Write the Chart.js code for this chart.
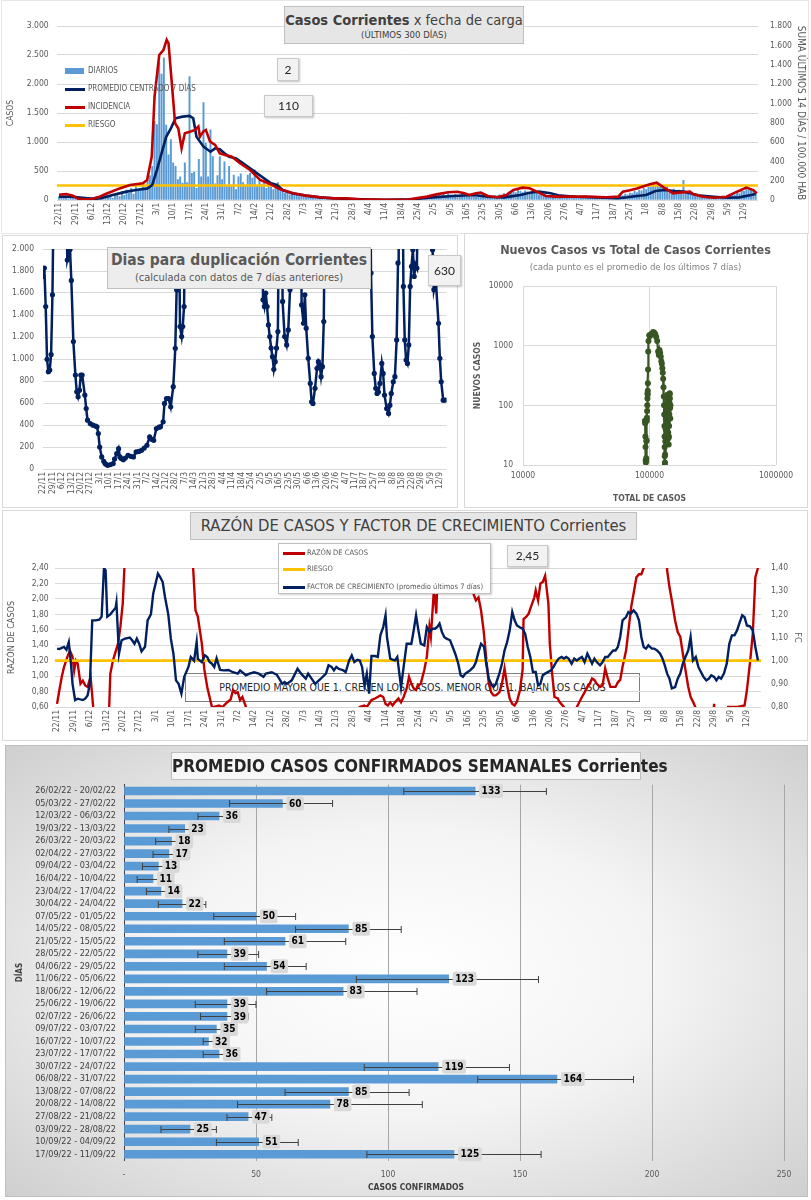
<!DOCTYPE html>
<html><head><meta charset="utf-8">
<script src="https://cdn.jsdelivr.net/npm/chart.js@4.4.1/dist/chart.umd.min.js"></script>
<style>
body{margin:0;width:811px;height:1200px;position:relative;background:#fff;font-family:'Liberation Sans Narrow','DejaVu Sans Condensed',sans-serif;overflow:hidden;color:#595959}
.panel{position:absolute;border:1px solid #d9d9d9;box-sizing:border-box;background:#fff}
canvas{position:absolute}
.tbox{position:absolute;background:#e7e6e6;border:1px solid #bfbfbf;box-sizing:border-box;text-align:center;color:#404040;white-space:nowrap}
.vbox{position:absolute;background:#f2f2f2;border:1px solid #c8c8c8;box-shadow:1px 1px 2px rgba(0,0,0,.25);box-sizing:border-box;text-align:center;color:#262626;font-size:12px;font-family:'Lato','Liberation Sans',sans-serif}
.t{position:absolute;white-space:nowrap}
.sw{position:absolute}
</style></head><body>

<div class="panel" style="left:1px;top:0;width:808px;height:234px;border-color:#e6e6e6"></div>
<div class="panel" style="left:2px;top:235px;width:456px;height:273px"></div>
<div class="panel" style="left:464px;top:233px;width:344px;height:275px"></div>
<div class="panel" style="left:2px;top:510px;width:806px;height:231px"></div>
<div class="panel" style="left:5px;top:745px;width:803px;height:452px;background:radial-gradient(ellipse at 50% 50%,#ffffff 0%,#f4f4f4 45%,#cfcfcf 100%);border-color:#bfbfbf"></div>

<!-- panel 4 annotation under canvas -->
<div class="t" style="left:185px;top:673px;width:455px;height:29px;border:1px solid #7f7f7f;box-sizing:border-box;text-align:center;line-height:27px;font-size:10.5px;color:#262626">PROMEDIO MAYOR QUE 1, CRECEN LOS CASOS, MENOR QUE 1, BAJAN LOS CASOS</div>

<canvas id="c1" width="811" height="236" style="left:0;top:0"></canvas>
<canvas id="c2" width="460" height="275" style="left:0;top:233px"></canvas>
<canvas id="c3" width="348" height="275" style="left:463px;top:233px"></canvas>
<canvas id="c4" width="811" height="232" style="left:0;top:510px"></canvas>
<canvas id="c5" width="803" height="452" style="left:5px;top:745px"></canvas>

<!-- panel 1 overlays -->
<div class="tbox" style="left:284px;top:6px;width:240px;height:38px">
 <div style="font-size:14.5px;line-height:18px;margin-top:4px;color:#404040"><b>Casos Corrientes</b> x fecha de carga</div>
 <div style="font-size:9.5px;line-height:12px">(ÚLTIMOS 300 DÍAS)</div>
</div>
<div class="vbox" style="left:277px;top:58px;width:22px;height:23px;line-height:21px">2</div>
<div class="vbox" style="left:264px;top:95px;width:49px;height:22px;line-height:20px">110</div>
<div class="sw" style="left:65px;top:68px;width:19px;height:6px;background:#5b9bd5"></div>
<div class="t" style="left:88px;top:65px;font-size:8px;line-height:12px">DIARIOS</div>
<div class="sw" style="left:65px;top:88px;width:20px;height:3px;background:#002060"></div>
<div class="t" style="left:88px;top:83px;font-size:8px;line-height:12px">PROMEDIO CENTRADO 7 DÍAS</div>
<div class="sw" style="left:65px;top:106px;width:20px;height:3px;background:#c00000"></div>
<div class="t" style="left:88px;top:101px;font-size:8px;line-height:12px">INCIDENCIA</div>
<div class="sw" style="left:65px;top:124px;width:20px;height:3px;background:#ffc000"></div>
<div class="t" style="left:88px;top:119px;font-size:8px;line-height:12px">RIESGO</div>

<!-- panel 2 overlays -->
<div class="tbox" style="left:107px;top:247px;width:264px;height:42px;background:#ededed">
 <div style="font-size:15.5px;line-height:19px;margin-top:3px;font-weight:bold;color:#595959">Dias para duplicación Corrientes</div>
 <div style="font-size:11px;line-height:15px;color:#595959">(calculada con datos de 7 días anteriores)</div>
</div>
<div class="vbox" style="left:428px;top:255px;width:33px;height:31px;line-height:29px">630</div>

<!-- panel 3 overlays -->
<div class="t" style="left:463px;top:242px;width:345px;text-align:center;font-size:12.5px;font-weight:bold;color:#595959">Nuevos Casos vs Total de Casos Corrientes</div>
<div class="t" style="left:463px;top:261px;width:345px;text-align:center;font-size:9.5px;color:#7f7f7f">(cada punto es el promedio de los últimos 7 días)</div>

<!-- panel 4 overlays -->
<div class="tbox" style="left:190px;top:512px;width:447px;height:28px;line-height:26px;font-size:16.5px;color:#404040">RAZÓN DE CASOS Y FACTOR DE CRECIMIENTO Corrientes</div>
<div class="t" style="left:278px;top:543px;width:213px;height:51px;background:#fff;border:1px solid #bfbfbf;box-shadow:1px 1px 2px rgba(0,0,0,.2);box-sizing:border-box"></div>
<div class="sw" style="left:283px;top:552px;width:22px;height:3px;background:#c00000"></div>
<div class="t" style="left:307px;top:548px;font-size:7.5px;line-height:10px">RAZÓN DE CASOS</div>
<div class="sw" style="left:283px;top:568px;width:22px;height:3px;background:#ffc000"></div>
<div class="t" style="left:307px;top:564px;font-size:7.5px;line-height:10px">RIESGO</div>
<div class="sw" style="left:283px;top:586px;width:22px;height:3px;background:#002060"></div>
<div class="t" style="left:307px;top:582px;font-size:7.5px;line-height:10px">FACTOR DE CRECIMIENTO (promedio últimos 7 días)</div>
<div class="vbox" style="left:507px;top:545px;width:41px;height:22px;line-height:20px">2,45</div>

<!-- panel 5 overlays -->
<div class="tbox" style="left:171px;top:752px;width:470px;height:28px;line-height:26px;font-size:17px;font-weight:bold;background:#f7f7f7;color:#262626">PROMEDIO CASOS CONFIRMADOS SEMANALES Corrientes</div>
<div class="t" style="left:316px;top:1182px;width:200px;text-align:center;font-size:8.5px;font-weight:bold;color:#404040">CASOS CONFIRMADOS</div>

<script>
const NARROW = "'Liberation Sans Narrow','DejaVu Sans Condensed',sans-serif";
Chart.defaults.font.family = NARROW;
Chart.defaults.color = '#595959';

// ---------- shared x tick labels (weekly, from 22/11/2021) ----------
const tickLabels = ['22/11','29/11','6/12','13/12','20/12','27/12','3/1','10/1','17/1','24/1','31/1','7/2','14/2','21/2','28/2','7/3','14/3','21/3','28/3','4/4','11/4','18/4','25/4','2/5','9/5','16/5','23/5','30/5','6/6','13/6','20/6','27/6','4/7','11/7','18/7','25/7','1/8','8/8','15/8','22/8','29/8','5/9','12/9'];

// ---------- panel 1 : casos ----------
const diarios = [
60,45,70,30,20,55,80,50,40,35,
25,30,45,20,15,35,60,40,25,70,
110,50,80,30,90,120,60,150,80,170,
120,200,100,230,150,180,260,210,340,420,
580,1350,1300,2370,2170,2450,1290,780,1040,640,
580,350,400,290,640,300,2130,460,480,200,
700,400,1680,980,400,1210,750,280,420,750,
350,660,230,580,230,430,180,400,450,300,
250,430,460,380,520,240,330,270,350,200,
310,260,180,220,300,150,190,120,160,90,
130,80,100,60,90,50,70,40,60,30,
45,25,35,20,30,15,25,12,20,10,
15,8,12,6,10,5,8,4,7,3,
6,3,5,4,6,2,5,3,4,6,
5,8,4,10,6,12,8,15,10,20,
15,25,18,35,28,45,30,55,40,60,
50,80,55,90,70,100,60,110,85,70,
95,60,80,110,70,90,100,60,85,50,
70,40,55,35,60,45,50,70,60,90,
80,110,90,140,120,160,130,170,150,130,
160,140,120,150,110,130,90,100,70,80,
60,75,50,60,45,55,40,50,35,45,
40,50,35,45,30,40,35,45,30,40,
35,45,30,40,35,30,45,40,50,45,
60,80,70,100,90,120,110,150,130,170,
160,200,180,240,220,260,240,280,220,250,
200,230,180,160,190,140,170,120,340,110,
130,90,110,80,100,70,60,80,50,60,
45,55,40,50,35,60,50,80,70,100,
90,130,110,160,150,190,170,200,180,120];
const promedio = [[0,55],[5,60],[10,40],[15,20],[18,29],[23,86],[29,144],[33,172],[38,200],[40,260],[42,517],[44,805],[46,1090],[48,1236],[50,1409],[53,1437],[56,1450],[57.6,1409],[59,1090],[62,920],[65,833],[67,891],[69,874],[71,805],[73,747],[76,718],[79,632],[82,546],[85,460],[88,374],[91,287],[93.5,259],[96,172],[100,115],[106,75],[112,46],[118,29],[124,17],[130,10],[140,5],[150,10],[153,17],[160,46],[169,69],[178,86],[184,57],[191,46],[198,86],[202,126],[206,144],[211,115],[215,75],[222,57],[231,46],[240,29],[244,46],[248,70],[252,86],[256,155],[260,172],[264,155],[268,144],[271,115],[275,75],[281,57],[287,40],[292,46],[297,86],[299,103]];
const incidencia = [[0,55],[3,62],[6,45],[8,15],[11,6],[14,10],[17,30],[20,62],[23,90],[26,120],[30.5,155],[36,172],[37.8,207],[39.8,450],[41,1070],[43,1500],[44.8,1550],[46.2,1656],[47,1620],[48.3,1240],[49.8,795],[51.2,740],[52.6,535],[54,690],[56.2,707],[58.4,725],[59.8,760],[60.5,655],[61.9,707],[63,725],[64.8,605],[67,570],[69,483],[71.2,466],[74,450],[77.7,380],[82,310],[86.3,207],[90.6,166],[94.8,110],[100.5,69],[106,45],[112,28],[117.7,17],[123.5,17],[129,7],[140,3],[150,5],[153,17],[158,35],[162,58],[167,80],[171,86],[174,69],[176,52],[179,69],[181,76],[184,41],[188,28],[192,52],[195,103],[199,128],[202,121],[205,86],[209,41],[213,35],[217,35],[226,35],[235,28],[240,35],[242,86],[245,100],[248,120],[253.6,162],[256.5,179],[259,138],[263.6,69],[266,76],[270.8,86],[272,62],[276.5,34],[281,24],[286.5,34],[291,86],[295,128],[298,103],[299.5,69]];
const riesgoIncidencia = 150;

// ---------- panel 2 : días para duplicación ----------
const duplicacion = [[0,1750],[1,1827],[2,1477],[3,997],[4,885],[5,900],[6,1040],[7,1584],[8,2600],[9,null],
[17,2600],[18,1900],[19,1950],[20,1995],[21,1714],[22.5,1158],[24,854],[25,702],[26,656],[27,717],[28,854],[29,854],[31,672],[32,550],[33,444],[35,413],[37,398],[39,390],[40,383],[41,322],[42,200],[43.5,110],[45,70],[46,49],[47,40],[48,33],[50,40],[52,49],[53,90],[54.6,140],[56,185],[57,110],[58,95],[59.5,85],[61,100],[63,125],[65,115],[67,110],[69,155],[71,160],[73,170],[75,190],[77,216],[79,292],[80.5,270],[82,261],[84,368],[86,380],[87,383],[89,429],[90,596],[91.5,640],[93,641],[94.6,565],[96.5,748],[98,1097],[99,1630],[99.8,1630],[100.5,2600],[101.5,1295],[102.7,1204],[103.5,1295],[104.5,1477],[105.5,2600],[106,null],
[162.5,2600],[163,1538],[164,1477],[165,1600],[166,1477],[167,1310],[168,1204],[169,1100],[170,1021],[171,906],[172,976],[173,1100],[174,1249],[175,2600],[177,2600],[177.5,1523],[179,1204],[180.5,1128],[181.7,1264],[183,1630],[184,2600],[185,null],
[191,2600],[191.6,1492],[193,1325],[194,1584],[195,1280],[196.5,1006],[198,778],[199,611],[200,596],[201.5,733],[203,915],[204,976],[205,945],[206,839],[207,930],[208,1340],[209,2600],[210,null],
[242.5,2600],[243,1781],[244,1204],[245.4,869],[246.5,733],[247.5,687],[248.5,700],[249.6,778],[251,960],[252,869],[253,672],[254.6,550],[256,505],[257,580],[258,687],[259.5,793],[260.7,839],[262,1173],[263,1873],[263.5,2600],[266.5,2600],[267,1660],[268,1173],[269,991],[270,960],[271,1128],[272,1660],[273,1842],[274,1994],[275,1751],[276,1857],[277,1827],[277.7,2600],[278,null],
[288.3,2600],[288.6,1994],[289.6,1630],[291,1720],[293,1325],[294,1006],[295,793],[296.5,626],[298,626]];

// ---------- panel 3 : nuevos vs total ----------
const totalCasos  = [92000,92400,92800,93000,93300,93600,93900,94200,94500,94800,95100,95400,95700,96000,96300,96500,96700,96900,97100,97400,97700,98200,99500,101000,103000,105000,107000,109000,111000,113000,115000,117000,118500,120000,121500,122800,124000,125200,126300,127300,128200,129000,129700,130300,130800,131200,131500,131800,132000,132200,132500,132900,133400,134000,134500,134900,135300,135800,136400,137000,137500,137900,138300,138700,139100,139500,140000,140600,141200,141800,142400,142900,143400,143800,144200,144600,145000,145500,146000,146400];
const nuevosCasos = [55,50,30,20,12,11,12,13,25,26,55,62,80,100,130,160,150,175,235,400,800,1200,1500,1450,1550,1600,1700,1650,1550,1400,1200,800,700,850,750,650,550,500,420,350,280,200,140,100,70,45,30,20,14,10,11,15,25,40,60,80,90,85,60,45,60,100,130,150,110,70,45,35,28,22,30,45,70,110,150,160,130,90,60,100];

// ---------- panel 4 : razón y factor de crecimiento ----------
const razon = [[0,0.64],[1,0.82],[2,0.99],[3,1.12],[4.4,1.25],[5.5,1.33],[6.6,1.25],[7.3,1.07],[8,1.2],[8.8,1.16],[10,0.9],[11,0.94],[12,0.88],[13,0.86],[14.3,0.99],[15.4,0.6],[16,0.4],[17,null],
[22,0.4],[22.7,1.03],[23.8,1.2],[24.7,1.29],[26,1.42],[27,1.64],[28,1.94],[28.7,2.4],[29.2,2.8],[30,null],
[57.6,2.8],[58,2.4],[59,1.85],[60,1.77],[61.7,1.42],[62.8,1.08],[64,0.86],[65,0.73],[66,0.6],[67,0.6],[69,0.62],[70.5,0.6],[71.5,0.63],[72.7,0.665],[74,0.7],[75,0.82],[76,0.78],[77,0.79],[78,0.69],[79,0.73],[80.5,0.6],[81,0.4],[82,null],
[128,0.4],[129,0.6],[131,0.62],[132,0.6],[134,0.69],[135.5,0.71],[137.8,0.75],[139,0.73],[140,0.64],[141,0.62],[142,0.66],[143,0.62],[144,0.66],[145.5,0.71],[146.6,0.66],[147.7,0.73],[149,0.84],[150,0.99],[151,0.9],[152,0.84],[153,0.82],[154,0.88],[155,0.9],[156.5,1.08],[157.6,1.25],[158.7,1.64],[159.3,1.51],[160.5,2.07],[161,2.03],[161.6,1.81],[162,2.15],[162.7,2.4],[163.2,2.8],[164,null],
[175.5,2.8],[176.3,2.2],[177.4,2.07],[178.5,1.98],[179.6,2.02],[180.7,1.85],[181.8,1.59],[183,1.2],[184,0.9],[185,0.79],[186,0.75],[187,0.75],[188.5,0.79],[189.6,0.9],[190.7,1.1],[191.8,0.88],[192.9,0.71],[194,0.64],[195,0.62],[196,0.67],[197.3,0.82],[198.4,1.08],[198.8,1.74],[200,1.77],[201,1.81],[202,1.9],[203.4,2.02],[204,2.11],[205,1.98],[206,2.2],[207,2.22],[208,2.3],[209.4,1.94],[210,1.42],[211,1.03],[212,0.73],[213.4,0.71],[214,0.67],[216,0.6],[216.5,0.4],[217,null],
[221,0.4],[221.5,0.6],[222.6,0.665],[223.7,0.73],[224.8,0.79],[226,0.86],[227,0.9],[228,0.97],[229,0.95],[230,0.9],[231.4,0.86],[232.5,0.88],[233.6,1.1],[234.7,0.97],[235.8,0.86],[237,0.86],[238,0.86],[239,0.92],[240,0.95],[241,1.12],[242.5,1.33],[243.5,1.59],[244.7,1.9],[245.7,2.07],[246.9,2.28],[248,2.32],[249,2.32],[250,2.4],[250.5,2.8],[251,null],
[259.5,2.8],[260,2.37],[261,2.15],[262,1.98],[263.4,1.72],[264.5,1.57],[265.6,1.51],[266.7,1.29],[267.8,1.08],[269,0.86],[270,0.73],[271,0.67],[272,0.6],[272.5,0.4],[273,null],
[279.5,0.4],[280,0.64],[280.5,0.4],[281,null],
[285.5,0.4],[286,0.6],[290,0.6],[293,0.62],[294,0.82],[295.4,1.2],[296.5,1.55],[297.6,2.28],[298.7,2.4]];
const riesgoRazon = 1.2;
const factorCrec = [[0,1.052],[1,1.05],[2,1.055],[3,1.059],[4,1.047],[5,1.08],[6,0.98],[6.6,0.9],[7.7,0.83],[8.8,0.836],[11,0.83],[12,0.836],[13,0.85],[14,0.9],[15,1.174],[16.5,1.174],[18,1.177],[19,1.19],[20,1.4],[20.7,1.39],[21.4,1.19],[22.7,1.2],[24,1.216],[25,1.23],[25.3,1.25],[26.4,1.03],[27.5,1.088],[29,1.095],[31,1.1],[32,1.088],[33,1.073],[34,1.095],[35,1.073],[36,1.04],[37.5,1.06],[38.6,1.174],[40,1.2],[41,1.29],[43,1.376],[44,1.36],[45,1.34],[46,1.275],[47.4,1.2],[48.5,1.095],[49.6,1.03],[50.7,0.915],[51.8,0.9],[53,0.858],[54.2,0.93],[56,0.973],[57,1.016],[58.4,1.0],[59.5,1.08],[60,1.008],[61.7,0.994],[63,1.023],[64,1.016],[65,0.994],[66,0.987],[67,0.973],[68,1.01],[69.5,0.96],[71,0.958],[73,0.96],[75,0.95],[77,0.944],[78,0.958],[80.5,0.937],[82,0.944],[84,0.95],[86,0.944],[88,0.93],[89,0.944],[91.5,0.95],[93.7,0.939],[96,0.9],[97,0.908],[98,0.9],[100,0.915],[102.5,0.965],[104,0.944],[106,0.922],[107,0.944],[109,0.915],[110,0.9],[112.4,0.922],[114.6,0.944],[115.7,0.98],[117,0.973],[118,0.958],[119,0.973],[120,0.965],[122,0.958],[123,0.951],[124.5,1.001],[125.6,1.023],[126.7,0.994],[128,1.004],[129,1.001],[130,0.973],[131,0.894],[132,0.944],[133,0.858],[134,1.02],[135.5,1.02],[136.7,1.016],[137.8,1.11],[139,1.145],[140,1.196],[140.6,1.102],[142,1.009],[143,1.004],[144,1.001],[145,1.016],[146.6,0.886],[147.7,0.973],[149,1.073],[150,1.073],[151,1.073],[152,1.131],[153,1.196],[154,1.131],[155,1.073],[156.5,1.066],[157.6,1.145],[158.7,1.124],[160,1.138],[161,1.138],[162,1.145],[163,1.16],[164,1.124],[165,1.102],[166,1.095],[167.5,1.088],[168.6,1.059],[169.7,1.03],[171,0.987],[172,0.937],[173,0.93],[174,0.944],[175,0.951],[176,0.958],[177.5,0.973],[178.5,0.994],[179.6,1.037],[180.7,1.073],[182,1.059],[183,0.98],[184,0.922],[185,0.9],[186,0.886],[187,0.9],[188.5,0.944],[189.6,0.987],[190.7,1.044],[191.8,1.08],[192.9,1.131],[194,1.21],[195,1.174],[196,1.152],[197,1.145],[198.4,1.138],[199.5,1.116],[200.6,1.059],[201.7,1.016],[202.8,0.951],[204,0.951],[205,0.894],[206,0.9],[207,0.937],[208,0.944],[210.5,0.958],[211.6,0.973],[212.7,0.994],[213.8,1.009],[215,1.016],[216,1.009],[217,1.016],[218,1.009],[219.3,0.987],[220.4,1.009],[221.5,1.001],[222.6,1.009],[223.7,1.016],[224.8,0.994],[226,1.03],[227,1.009],[228,0.987],[229,1.009],[230,0.994],[231.4,0.98],[232.5,0.994],[233.6,1.016],[234.7,1.016],[235.8,1.03],[237,1.044],[238,1.044],[239,1.059],[240,1.102],[241,1.174],[242.5,1.188],[243.5,1.21],[244.5,1.203],[245.7,1.217],[246.9,1.203],[248,1.174],[249,1.102],[250,1.059],[251,1.052],[252,1.066],[253.5,1.052],[254.5,1.052],[255.7,1.044],[257,1.03],[258,1.009],[259,0.98],[260,0.944],[261,0.922],[262,0.88],[263.4,0.886],[264.5,0.922],[265.6,0.944],[266.7,0.987],[267.8,1.016],[269,1.044],[270,1.102],[271,1.001],[272.2,1.016],[273.3,0.973],[274.4,0.951],[275.5,0.93],[276.7,0.915],[277.8,0.922],[278.8,0.937],[280,0.93],[281,0.915],[282,0.93],[283,0.922],[284.2,0.944],[285.4,0.987],[286.5,1.073],[287.6,1.109],[288.7,1.109],[289.8,1.131],[291,1.167],[292,1.196],[293,1.188],[294,1.152],[295.3,1.148],[296.5,1.131],[297.6,1.059],[298.7,1.001]];

// ---------- panel 5 : promedio semanal ----------
const semanas = ['26/02/22 - 20/02/22','05/03/22 - 27/02/22','12/03/22 - 06/03/22','19/03/22 - 13/03/22','26/03/22 - 20/03/22','02/04/22 - 27/03/22','09/04/22 - 03/04/22','16/04/22 - 10/04/22','23/04/22 - 17/04/22','30/04/22 - 24/04/22','07/05/22 - 01/05/22','14/05/22 - 08/05/22','21/05/22 - 15/05/22','28/05/22 - 22/05/22','04/06/22 - 29/05/22','11/06/22 - 05/06/22','18/06/22 - 12/06/22','25/06/22 - 19/06/22','02/07/22 - 26/06/22','09/07/22 - 03/07/22','16/07/22 - 10/07/22','23/07/22 - 17/07/22','30/07/22 - 24/07/22','06/08/22 - 31/07/22','13/08/22 - 07/08/22','20/08/22 - 14/08/22','27/08/22 - 21/08/22','03/09/22 - 28/08/22','10/09/22 - 04/09/22','17/09/22 - 11/09/22'];
const promedioSemanal = [133,60,36,23,18,17,13,11,14,22,50,85,61,39,54,123,83,39,39,35,32,36,119,164,85,78,47,25,51,125];
const errorMin = [106,40,28,17,12,11,7,5,8.5,13,34,65,38,28,38,88,54,27,29,27,30,30,91,134,61,43,39,14,35,92];
const errorMax = [160,79,42,29,24,22,19,16,19,31,65,105,84,51,69,157,111,50,47,42.6,34,40,146,193,108,113,56,35,66,158];

// ---------- helpers ----------
const fmtInt = v => Math.round(v).toString().replace(/\B(?=(\d{3})+(?!\d))/g,'.');
const fmt2 = v => v.toFixed(2).replace('.',',');
const pts = arr => arr.map(p => ({x:p[0], y:p[1]}));
const weekTicks = s => { s.ticks = tickLabels.map((l,i)=>({value:i*7})); };
const xDateAxis = (min,max,h) => ({type:'linear',min:min,max:max,offset:false,grid:{display:false,drawTicks:false},border:{display:false},
  afterBuildTicks:weekTicks,
  ticks:{autoSkip:false,minRotation:90,maxRotation:90,padding:3,font:{size:8.5},color:'#595959',callback:(v)=>tickLabels[Math.round(v/7)]},
  afterFit:s=>{s.height=h;}});
const base = {responsive:false,animation:false,events:[],plugins:{legend:{display:false},tooltip:{enabled:false}}};

// ---------- chart 1 ----------
new Chart(document.getElementById('c1'), {
  type:'bar',
  data:{datasets:[
    {type:'line',data:pts(incidencia),yAxisID:'y1',borderColor:'#c00000',borderWidth:2.6,pointRadius:0,order:1},
    {type:'line',data:pts(promedio),yAxisID:'y',borderColor:'#002060',borderWidth:2.6,pointRadius:0,order:2},
    {type:'line',data:[{x:-1,y:riesgoIncidencia},{x:300,y:riesgoIncidencia}],yAxisID:'y1',borderColor:'#ffc000',borderWidth:2.6,pointRadius:0,order:3},
    {type:'bar',data:diarios.map((v,i)=>({x:i,y:v})),yAxisID:'y',backgroundColor:'#5b9bd5',barThickness:1.3,order:4}
  ]},
  options:{...base,layout:{padding:{top:26,left:0,right:0,bottom:0}},
    scales:{
      x:xDateAxis(-1,300,36),
      y:{position:'left',min:0,max:3000,ticks:{stepSize:500,callback:fmtInt,font:{size:8.5},color:'#595959',padding:8},
         grid:{color:'#d9d9d9',drawTicks:false},border:{display:false},
         title:{display:true,text:'CASOS',font:{size:8.5},color:'#595959',padding:{top:6,bottom:0}},afterFit:s=>{s.width=56.7;}},
      y1:{position:'right',min:0,max:1800,ticks:{stepSize:200,callback:fmtInt,font:{size:8.5},color:'#595959',padding:12},
         grid:{display:false,drawTicks:false},border:{display:false},
         title:{display:true,text:'SUMA ÚLTIMOS 14 DÍAS / 100.000 HAB',font:{size:10},color:'#595959',padding:{top:4,bottom:0}},afterFit:s=>{s.width=53;}}
    }}
});

// ---------- chart 2 ----------
new Chart(document.getElementById('c2'), {
  type:'line',
  data:{datasets:[{data:pts(duplicacion),borderColor:'#002060',backgroundColor:'#002060',borderWidth:2.5,pointRadius:2.6,pointBorderWidth:0,spanGaps:false}]},
  options:{...base,layout:{padding:{top:16,right:13.4,left:0,bottom:0}},
    scales:{
      x:xDateAxis(0,299,39),
      y:{min:0,max:2000,ticks:{stepSize:200,callback:fmtInt,font:{size:8.5},color:'#595959',padding:9},
         grid:{color:'#d9d9d9',drawTicks:false},border:{display:false},afterFit:s=>{s.width=43;}}
    }}
});

// ---------- chart 3 ----------
const decades = (a,b) => s => { const t=[]; for(let v=a; v<=b; v*=10) t.push({value:v}); s.ticks=t; };
new Chart(document.getElementById('c3'), {
  type:'line',
  data:{datasets:[{data:totalCasos.map((x,i)=>({x:x,y:nuevosCasos[i]})),borderColor:'#375623',backgroundColor:'#375623',borderWidth:2.2,pointRadius:3,pointBorderWidth:0}]},
  options:{...base,layout:{padding:{top:53,right:35,left:0,bottom:0}},
    scales:{
      x:{type:'logarithmic',min:10000,max:1000000,afterBuildTicks:decades(10000,1000000),
         ticks:{font:{size:8.5},color:'#595959',padding:6,callback:v=>String(v)},grid:{color:'#d9d9d9',drawTicks:false},border:{display:false},
         title:{display:true,text:'TOTAL DE CASOS',font:{size:8.5,weight:'bold'},color:'#595959',padding:{top:6}},afterFit:s=>{s.height=43;}},
      y:{type:'logarithmic',min:10,max:10000,afterBuildTicks:decades(10,10000),
         ticks:{font:{size:8.5},color:'#595959',padding:10,callback:v=>String(v)},grid:{color:'#d9d9d9',drawTicks:false},border:{display:false},
         title:{display:true,text:'NUEVOS CASOS',font:{size:8.5,weight:'bold'},color:'#595959',padding:{top:10,bottom:0}},afterFit:s=>{s.width=60;}}
    }}
});

// ---------- chart 4 ----------
new Chart(document.getElementById('c4'), {
  type:'line',
  data:{datasets:[
    {data:pts(razon),yAxisID:'y',borderColor:'#c00000',borderWidth:2.4,pointRadius:0,spanGaps:false,order:3},
    {data:[{x:-1,y:riesgoRazon},{x:300,y:riesgoRazon}],yAxisID:'y',borderColor:'#ffc000',borderWidth:2.6,pointRadius:0,order:2},
    {data:pts(factorCrec),yAxisID:'y1',borderColor:'#002060',borderWidth:2.4,pointRadius:0,order:1}
  ]},
  options:{...base,layout:{padding:{top:58,left:0,right:0,bottom:0}},
    scales:{
      x:xDateAxis(-1,300,35),
      y:{position:'left',min:0.6,max:2.4,ticks:{stepSize:0.2,callback:fmt2,font:{size:8.5},color:'#595959',padding:6},
         grid:{color:'#d9d9d9',drawTicks:false},border:{display:false},
         title:{display:true,text:'RAZÓN DE CASOS',font:{size:9},color:'#595959',padding:{top:6,bottom:0}},afterFit:s=>{s.width=54.7;}},
      y1:{position:'right',min:0.8,max:1.4,ticks:{stepSize:0.1,callback:fmt2,font:{size:8.5},color:'#595959',padding:10},
         grid:{display:false,drawTicks:false},border:{display:false},
         title:{display:true,text:'FC',font:{size:9},color:'#595959',padding:{top:8,bottom:0}},afterFit:s=>{s.width=50;}}
    }}
});

// ---------- chart 5 ----------
const barExtras = {id:'barExtras', afterDatasetsDraw(chart){
  const ctx=chart.ctx, xs=chart.scales.x, ys=chart.scales.y;
  ctx.save();
  ctx.strokeStyle='#404040'; ctx.lineWidth=1;
  promedioSemanal.forEach((v,i)=>{
    const y=Math.round(ys.getPixelForValue(i))+0.5;
    const x1=xs.getPixelForValue(errorMin[i]), x2=xs.getPixelForValue(errorMax[i]);
    ctx.beginPath(); ctx.moveTo(x1,y); ctx.lineTo(x2,y);
    ctx.moveTo(x1,y-3.5); ctx.lineTo(x1,y+3.5); ctx.moveTo(x2,y-3.5); ctx.lineTo(x2,y+3.5); ctx.stroke();
  });
  ctx.font="bold 10px "+NARROW; ctx.textBaseline='middle';
  promedioSemanal.forEach((v,i)=>{
    const y=ys.getPixelForValue(i), x=xs.getPixelForValue(v)+4;
    const t=String(v), w=ctx.measureText(t).width+5;
    ctx.fillStyle='#d9d9d9'; ctx.beginPath(); ctx.roundRect(x,y-7,w,14,2); ctx.fill();
    ctx.fillStyle='#000'; ctx.fillText(t,x+2.5,y+0.5);
  });
  ctx.restore();
}};
new Chart(document.getElementById('c5'), {
  type:'bar',
  data:{labels:semanas,datasets:[{data:promedioSemanal,backgroundColor:'#5b9bd5',barThickness:8}]},
  options:{...base,indexAxis:'y',layout:{padding:{top:39.7,right:24,left:0,bottom:0}},
    scales:{
      x:{min:0,max:250,ticks:{stepSize:50,font:{size:8.5},color:'#595959',padding:9,callback:v=>v===0?'-':String(v)},
         grid:{color:'#a6a6a6',drawTicks:false},border:{display:false},afterFit:s=>{s.height=36.5;}},
      y:{ticks:{font:{size:9},color:'#404040',padding:8,autoSkip:false},grid:{display:false,drawTicks:false},
         border:{display:true,color:'#404040',width:1},
         title:{display:true,text:'DÍAS',font:{size:8,weight:'bold'},color:'#404040',padding:{top:10,bottom:0}},afterFit:s=>{s.width=119;}}
    }},
  plugins:[barExtras]
});
</script>
</body></html>
